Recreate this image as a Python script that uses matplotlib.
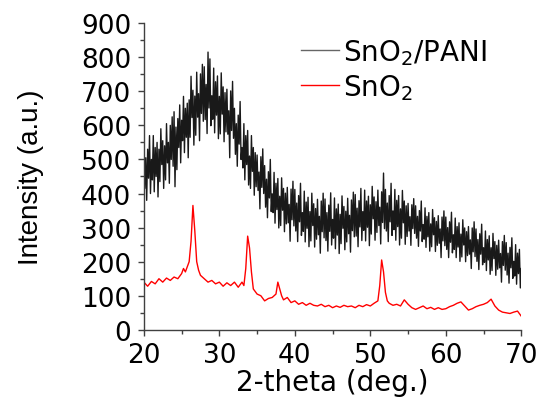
import numpy as np
import matplotlib.pyplot as plt

plt.rcParams['font.family'] = ['DejaVu Sans']
plt.rcParams['mathtext.fontset'] = 'dejavusans'

# SnO2/PANI pattern, read every 0.125 deg from 20 to 70 (noisy broad humps)
pani_angle = np.linspace(20, 70, 401)
pani_counts = [
    550, 415, 505, 380, 530, 445, 570, 400,   # 20
    500, 440, 570, 405, 535, 450, 550, 390,   # 21
    530, 435, 590, 485, 555, 415, 540, 440,   # 22
    605, 490, 550, 430, 600, 500, 625, 480,   # 23
    640, 420, 595, 470, 620, 535, 660, 490,   # 24
    615, 555, 685, 520, 650, 565, 665, 505,   # 25
    675, 565, 744, 623, 703, 542, 686, 571,   # 26
    756, 624, 693, 555, 751, 635, 779, 612,   # 27
    772, 617, 720, 576, 815, 651, 795, 599,   # 28
    687, 618, 768, 578, 728, 630, 745, 561,   # 29
    685, 575, 754, 633, 713, 552, 696, 581,   # 30
    706, 574, 643, 505, 701, 585, 729, 562,   # 31
    650, 515, 605, 480, 630, 545, 670, 500,   # 32
    535, 475, 605, 440, 570, 485, 585, 425,   # 33
    510, 415, 570, 465, 535, 395, 520, 420,   # 34
    513, 409, 463, 355, 508, 418, 531, 400,   # 35
    482, 360, 442, 329, 464, 387, 500, 347,   # 36
    399, 344, 462, 313, 430, 353, 444, 299,   # 37
    392, 306, 446, 351, 415, 288, 401, 311,   # 38
    418, 314, 368, 260, 413, 323, 436, 305,   # 39
    412, 290, 372, 259, 394, 317, 430, 277,   # 40
    344, 289, 407, 258, 375, 298, 389, 244,   # 41
    347, 261, 401, 306, 370, 243, 356, 266,   # 42
    383, 279, 333, 225, 378, 288, 401, 270,   # 43
    384, 262, 344, 231, 366, 289, 402, 249,   # 44
    324, 269, 387, 238, 355, 278, 369, 224,   # 45
    339, 253, 393, 298, 362, 235, 348, 258,   # 46
    386, 282, 336, 228, 381, 291, 404, 273,   # 47
    397, 275, 357, 244, 379, 302, 415, 262,   # 48
    347, 292, 410, 261, 378, 301, 392, 247,   # 49
    367, 281, 421, 326, 390, 263, 376, 286,   # 50
    410, 306, 360, 252, 405, 315, 460, 297,   # 51
    412, 290, 372, 259, 394, 317, 430, 277,   # 52
    349, 294, 412, 263, 380, 303, 394, 249,   # 53
    355, 269, 409, 314, 378, 251, 364, 274,   # 54
    371, 290, 332, 248, 367, 297, 385, 283,   # 55
    364, 269, 333, 245, 350, 290, 378, 259,   # 56
    309, 266, 358, 242, 333, 273, 344, 231,   # 57
    311, 244, 353, 279, 329, 230, 318, 248,   # 58
    335, 254, 296, 212, 331, 261, 349, 247,   # 59
    331, 236, 300, 212, 317, 257, 345, 226,   # 60
    279, 236, 328, 212, 303, 243, 314, 201,   # 61
    281, 214, 323, 249, 299, 200, 288, 218,   # 62
    303, 222, 264, 180, 299, 229, 317, 215,   # 63
    296, 201, 265, 177, 282, 222, 310, 191,   # 64
    241, 198, 290, 174, 265, 205, 276, 163,   # 65
    241, 174, 283, 209, 259, 160, 248, 178,   # 66
    263, 182, 224, 140, 259, 189, 277, 175,   # 67
    256, 161, 225, 137, 242, 182, 270, 151,   # 68
    201, 158, 250, 134, 225, 165, 236, 123,   # 69
    180,
]

# SnO2 pattern (sharp cassiterite reflections)
sno2_angle = [
    20.0, 20.5, 21.0, 21.5, 22.0, 22.5, 23.0, 23.5, 24.0, 24.5, 25.0, 25.25,
    25.5, 25.75, 26.0, 26.25, 26.5, 26.75, 27.0, 27.25, 27.5, 28.0, 28.5, 29.0,
    29.5, 30.0, 30.5, 31.0, 31.5, 32.0, 32.5, 33.0, 33.25, 33.5, 33.75, 34.0,
    34.25, 34.5, 35.0, 35.5, 36.0, 36.5, 37.0, 37.5, 37.75, 38.0, 38.25, 38.5,
    39.0, 39.5, 40.0, 40.5, 41.0, 41.5, 42.0, 42.5, 43.0, 43.5, 44.0, 44.5,
    45.0, 45.5, 46.0, 46.5, 47.0, 47.5, 48.0, 48.5, 49.0, 49.5, 50.0, 50.5,
    51.0, 51.25, 51.5, 51.75, 52.0, 52.25, 52.5, 53.0, 53.5, 54.0, 54.5, 55.0,
    55.5, 56.0, 56.5, 57.0, 57.5, 58.0, 58.5, 59.0, 59.5, 60.0, 60.5, 61.0,
    61.5, 62.0, 62.5, 63.0, 63.5, 64.0, 64.5, 65.0, 65.5, 66.0, 66.5, 67.0,
    67.5, 68.0, 68.5, 69.0, 69.5, 70.0,
]
sno2_counts = [
    140, 128, 142, 135, 150, 140, 152, 145, 155, 150, 165, 180,
    170, 185, 200, 260, 365, 290, 200, 175, 160, 150, 140, 145,
    135, 140, 128, 138, 130, 140, 125, 140, 130, 180, 275, 240,
    170, 120, 105, 100, 85, 92, 95, 105, 140, 120, 100, 88,
    95, 80, 85, 75, 80, 72, 78, 72, 70, 75, 68, 72,
    65, 70, 66, 72, 68, 70, 65, 72, 68, 74, 70, 78,
    85, 130, 205, 170, 110, 85, 78, 72, 75, 70, 88, 75,
    65, 60, 65, 70, 62, 66, 60, 65, 60, 62, 68, 72,
    78, 82, 70, 58, 62, 68, 72, 75, 80, 90, 70, 58,
    52, 50, 48, 52, 55, 40,
]

fig = plt.figure(figsize=(5.47, 4.02), dpi=100)
ax = fig.add_axes([0.263, 0.177, 0.69, 0.763])

ax.plot(pani_angle, pani_counts, color='black', lw=1.0, alpha=0.9, label='SnO$_2$/PANI')
ax.plot(sno2_angle, sno2_counts, color='red', lw=1.0, label='SnO$_2$')

ax.set_xlim(20, 70)
ax.set_ylim(0, 900)
ax.set_xticks(range(20, 71, 10))
ax.set_xticks(range(25, 70, 10), minor=True)
ax.set_yticks(range(0, 901, 100))
ax.set_yticks(range(50, 900, 100), minor=True)

for side in ('top', 'right'):
    ax.spines[side].set_visible(False)
for side in ('left', 'bottom'):
    ax.spines[side].set_color('#404040')
    ax.spines[side].set_linewidth(1.0)

ax.tick_params(which='major', direction='out', length=4, width=1, color='#404040',
               labelsize=19, pad=5)
ax.tick_params(which='minor', direction='out', length=3, width=1, color='#404040')

ax.set_xlabel('2-theta (deg.)', fontsize=20, labelpad=0)
ax.set_ylabel('Intensity (a.u.)', fontsize=20, labelpad=27,
              family=['Liberation Sans Narrow', 'Liberation Sans'])

leg = ax.legend(loc='upper right', bbox_to_anchor=(0.975, 1.037), frameon=False,
                fontsize=20, handlelength=1.35, handletextpad=0.15, labelspacing=0.2)
leg.get_lines()[0].set_color('#555555')

fig.savefig('out.png', dpi=100)
